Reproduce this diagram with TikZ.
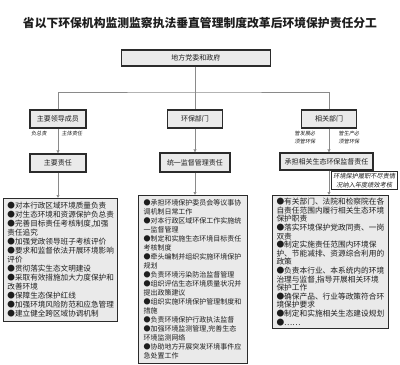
\documentclass[tikz,border=0pt]{standalone}
\usepackage{fontspec}
\setmainfont{Noto Sans CJK SC}
\newfontfamily\kaiti{Noto Sans CJK SC}[FakeSlant=0.15]
\usetikzlibrary{arrows.meta,positioning}
\definecolor{caja}{HTML}{EAEAEA}
\definecolor{borde}{HTML}{2B2B2B}
\definecolor{linea}{HTML}{8A8A8A}
\definecolor{tinta}{HTML}{1E1E1E}
\tikzset{
 jefe/.style={draw=borde,fill=caja,line width=1.1pt,inner sep=0pt,font=\fontsize{7}{8}\selectfont,text=tinta},
 lista/.style={draw=borde,fill=caja,line width=1pt,inner xsep=4pt,inner ysep=0pt,align=left,anchor=north west,text=tinta},
 nota/.style={font=\kaiti\fontsize{5.2}{8.5}\selectfont,text=tinta,inner sep=0pt,align=center},
 flecha/.style={linea,line width=1pt,-{Latex[length=3pt,width=3.4pt]}},
 rama/.style={linea,line width=1pt},
}
\begin{document}
\begin{tikzpicture}[x=1pt,y=-1pt]
\useasboundingbox (0,0) rectangle (400,365);

\node[font=\bfseries\fontsize{11.8}{14}\selectfont,text=tinta] (titulo) at (200,23) {省以下环保机构监测监察执法垂直管理制度改革后环境保护责任分工};

% nivel 1
\node[jefe,minimum width=149pt,minimum height=16pt] (gov) at (196,58) {地方党委和政府};
\node[jefe,minimum width=56pt,minimum height=18pt] (lead) at (58,119) {主要领导成员};
\node[jefe,minimum width=55pt,minimum height=18pt] (env) at (195,119) {环保部门};
\node[jefe,minimum width=55pt,minimum height=18pt] (rel) at (329,119) {相关部门};
\coordinate (cruce) at (195,92);
\draw[rama] (env.north |- gov.south) -- (cruce);
\draw[rama] (lead.north) |- (cruce) -| (rel.north);
\draw[rama] (cruce) -- (env.north);

% nivel 2
\node[jefe,minimum width=56pt,minimum height=18pt] (zhuyao) at (58,163) {主要责任};
\node[jefe,minimum width=70pt,minimum height=19pt] (tongyi) at (195,162.5) {统一监督管理责任};
\node[jefe,minimum width=93pt,minimum height=17pt] (xiangguan) at (326.5,161.5) {承担相关生态环保监督责任};
\draw[flecha] (lead) -- (zhuyao);
\draw[flecha] (env) -- (tongyi);
\draw[flecha] (rel.south) -- (rel.south |- xiangguan.north);
\node[nota] (fz) at (39,134) {负总责};
\node[nota] (zt) at (72,134) {主体责任};
\node[nota] (gfz) at (305,137.5) {管发展必\\须管环保};
\node[nota] (gsc) at (349,137.5) {管生产必\\须管环保};

% listas
\node[lista,text width=106pt,minimum height=123pt,font=\fontsize{7.6}{9}\selectfont] (zonaA) at (3,198) {%
●对本行政区域环境质量负责\\
●对生态环境和资源保护负总责\\
●完善目标责任考核制度,加强\\
责任追究\\
●加强党政领导班子考核评价\\
●要求和监督依法开展环境影响\\
评价\\
●贯彻落实生态文明建设\\
●采取有效措施加大力度保护和\\
改善环境\\
●保障生态保护红线\\
●加强环境风险防范和应急管理\\
●建立健全跨区域协调机制};
\node[lista,inner xsep=5pt,text width=99pt,minimum height=168pt,font=\fontsize{7}{9}\selectfont] (zonaB) at (138,195) {%
●承担环境保护委员会等议事协\\
调机制日常工作\\
●对本行政区域环保工作实施统\\
一监督管理\\
●制定和实施生态环境目标责任\\
考核制度\\
●牵头编制并组织实施环境保护\\
规划\\
●负责环境污染防治监督管理\\
●组织评估生态环境质量状况并\\
提出政策建议\\
●组织实施环境保护管理制度和\\
措施\\
●负责环境保护行政执法监督\\
●加强环境监测管理,完善生态\\
环境监测网络\\
●协助地方开展突发环境事件应\\
急处置工作};
\node[lista,text width=108pt,minimum height=133pt,font=\fontsize{7.7}{8.6}\selectfont] (zonaC) at (272,195) {%
●有关部门、法院和检察院在各\\
自责任范围内履行相关生态环境\\
保护职责\\
●落实环境保护党政同责、一岗\\
双责\\
●制定实施责任范围内环境保\\
护、节能减排、资源综合利用的\\
政策\\
●负责本行业、本系统内的环境\\
治理与监督,指导开展相关环境\\
保护工作\\
●确保产品、行业等政策符合环\\
境保护要求\\
●制定和实施相关生态建设规划\\
●……};
\draw[flecha] (zhuyao) -- (zhuyao |- zonaA.north);
\draw[flecha] (tongyi) -- (tongyi |- zonaB.north);
\draw[flecha] (rel.south |- xiangguan.south) -- (rel.south |- zonaC.north);
\node[nota,draw=borde,line width=0.6pt,fill=white,font=\kaiti\fontsize{6.2}{8.5}\selectfont,inner sep=2pt,anchor=north west] (kaohe) at (331,171) {环境保护履职不尽责情\\况纳入年度绩效考核};

\end{tikzpicture}
\end{document}
